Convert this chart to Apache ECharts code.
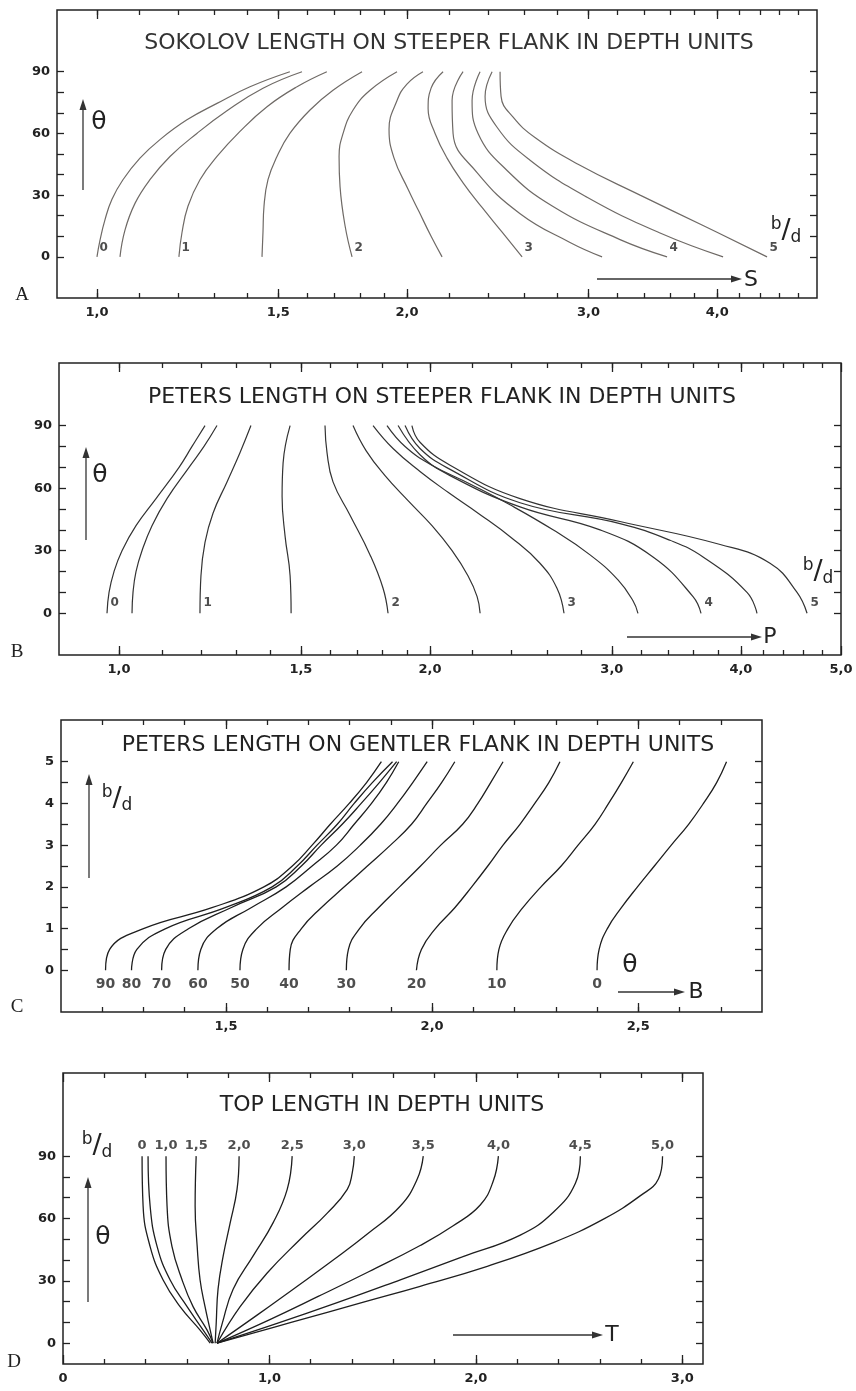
<!DOCTYPE html>
<html>
<head>
<meta charset="utf-8">
<script src="https://cdn.jsdelivr.net/npm/echarts@6/dist/echarts.min.js"></script>
<style>
  html, body { margin: 0; padding: 0; background: #fff; }
  #chart { width: 856px; height: 1391px; }
</style>
</head>
<body>
<div id="chart"></div>
<script>
// ---- A: Sokolov length on steeper flank (S, log scale) vs theta, one curve per b/d
const sokolovNames = ['0', '', '1', '', '2', '', '3', '', '4', '', '5'];
const sokolovTheta = [
  [0, 8, 18, 28, 37.5, 48, 57, 66.6, 74.6, 82.7, 90],
  [0, 13, 26, 37.5, 48.8, 60, 71, 82, 90],
  [0, 11.6, 24.6, 37.5, 48.8, 61, 73, 82.7, 90],
  [0, 12, 24.6, 37.5, 48.8, 60, 71.4, 81, 90],
  [0, 15, 34, 48.8, 60, 71.4, 81, 90],
  [0, 10, 22, 33, 48, 62, 76, 84, 90],
  [0, 12, 24, 36, 48, 60, 72, 82, 90],
  [0, 7, 21, 41, 60, 76, 90],
  [0, 8.4, 24.5, 42, 60, 76, 90],
  [0, 11.6, 29, 47, 63, 78, 90],
  [0, 15, 30, 45, 58, 68, 78, 90]
];
const sokolovS = [
  [1.000, 1.0067, 1.018, 1.0341, 1.0598, 1.1009, 1.1512, 1.2228, 1.3077, 1.4078, 1.539],
  [1.0528, 1.0646, 1.0887, 1.1257, 1.1773, 1.2502, 1.3372, 1.4493, 1.5814],
  [1.201, 1.2091, 1.2255, 1.2589, 1.3077, 1.3767, 1.4624, 1.5638, 1.6717],
  [1.4461, 1.4493, 1.4526, 1.4656, 1.4954, 1.539, 1.6099, 1.6948, 1.8086],
  [1.7686, 1.7413, 1.7218, 1.718, 1.7334, 1.7726, 1.8412, 1.9556],
  [2.1628, 2.1103, 2.054, 2.004, 1.9426, 1.921, 1.9556, 1.9995, 2.0724],
  [2.5864, 2.4735, 2.3649, 2.2667, 2.1869, 2.1292, 2.0963, 2.1103, 2.1676],
  [3.0926, 2.8788, 2.5749, 2.3387, 2.2166, 2.2117, 2.2667],
  [3.5761, 3.2194, 2.7716, 2.501, 2.344, 2.3128, 2.3545],
  [4.0532, 3.5206, 2.9907, 2.6328, 2.4456, 2.381, 2.4186],
  [4.4718, 3.8847, 3.3667, 2.931, 2.6619, 2.5338, 2.4676, 2.4621]
];
const sokolovMajor = [1.0, 1.5, 2.0, 3.0, 4.0];

// ---- B: Peters length on steeper flank (P, log scale)
const petersSteepNames = ['0', '', '1', '', '2', '', '3', '', '4', '', '5'];
const petersSteepTheta = [
  [0, 10, 20, 30, 42, 55, 70, 80, 90],
  [0, 10, 20, 30, 42, 55, 70, 80, 90],
  [0, 18, 34, 48, 63, 77, 90],
  [0, 18, 37, 56, 72, 90],
  [0, 12, 28, 47, 63, 77, 90],
  [0, 8, 18, 30, 42, 54, 66, 78, 90],
  [0, 12, 24, 36, 48, 58, 68, 79, 90],
  [0, 6, 16, 28, 40, 52, 62, 71, 80, 90],
  [0, 8, 27, 40, 51, 66, 76, 90],
  [0, 10, 27, 35, 43, 53, 69, 79, 90],
  [0, 10, 24, 33, 44, 55, 71, 82, 90]
];
const petersSteepP = [
  [0.9736, 0.978, 0.9889, 1.0067, 1.0386, 1.086, 1.1432, 1.1768, 1.2113],
  [1.0294, 1.0317, 1.0386, 1.0526, 1.0763, 1.1129, 1.1689, 1.2086, 1.2441],
  [1.1978, 1.2004, 1.2113, 1.2331, 1.2722, 1.3095, 1.3419],
  [1.4676, 1.4643, 1.448, 1.4384, 1.4416, 1.4643],
  [1.8216, 1.8014, 1.75, 1.6736, 1.6113, 1.5899, 1.5828],
  [2.2366, 2.2217, 2.1768, 2.1011, 2.0091, 1.9047, 1.8094, 1.7344, 1.6848],
  [2.6966, 2.6546, 2.5558, 2.4013, 2.2266, 2.0823, 1.9561, 1.842, 1.7618],
  [3.1799, 3.1447, 3.0414, 2.8577, 2.6313, 2.3907, 2.1868, 2.0091, 1.892, 1.8174],
  [3.6598, 3.5951, 3.2883, 2.9219, 2.4447, 2.0918, 1.9561, 1.8628],
  [4.1462, 4.0548, 3.6762, 3.4154, 3.0549, 2.4447, 2.0918, 1.9561, 1.892],
  [4.6356, 4.5334, 4.268, 3.8194, 3.0549, 2.4447, 2.0918, 1.9561, 1.9211]
];
const petersSteepMajor = [1.0, 1.5, 2.0, 3.0, 4.0, 5.0];
const logMinor = [1.0, 1.1, 1.2, 1.3, 1.4, 1.5, 1.6, 1.7, 1.8, 1.9, 2.0,
  2.2, 2.4, 2.6, 2.8, 3.0, 3.2, 3.4, 3.6, 3.8, 4.0, 4.2, 4.4, 4.6, 4.8];

// ---- C: Peters length on gentler flank, B vs b/d, one curve per theta
const gentleNames = ['90', '80', '70', '60', '50', '40', '30', '20', '10', '0'];
const gentleBd = [0, 0.5, 1, 1.5, 2, 2.5, 3, 3.5, 4, 4.5, 5];
const gentleB = [
  [1.208, 1.218, 1.300, 1.466, 1.592, 1.661, 1.709, 1.753, 1.799, 1.841, 1.877],
  [1.271, 1.284, 1.354, 1.498, 1.612, 1.673, 1.721, 1.770, 1.811, 1.855, 1.904],
  [1.344, 1.354, 1.410, 1.512, 1.622, 1.683, 1.731, 1.782, 1.828, 1.872, 1.914],
  [1.432, 1.439, 1.478, 1.561, 1.646, 1.709, 1.768, 1.811, 1.853, 1.889, 1.919],
  [1.534, 1.541, 1.575, 1.636, 1.702, 1.770, 1.826, 1.875, 1.916, 1.953, 1.988],
  [1.653, 1.656, 1.683, 1.731, 1.787, 1.843, 1.899, 1.950, 1.987, 2.023, 2.055],
  [1.792, 1.797, 1.824, 1.870, 1.921, 1.972, 2.021, 2.074, 2.111, 2.142, 2.172],
  [1.962, 1.974, 2.008, 2.055, 2.096, 2.135, 2.172, 2.213, 2.249, 2.283, 2.310],
  [2.157, 2.162, 2.184, 2.220, 2.264, 2.313, 2.354, 2.395, 2.428, 2.459, 2.488],
  [2.400, 2.405, 2.425, 2.459, 2.498, 2.539, 2.580, 2.622, 2.658, 2.690, 2.714]
];
const gentleMajor = [1.5, 2.0, 2.5];
const gentleMinor = [1.2, 1.3, 1.4, 1.5, 1.6, 1.7, 1.8, 1.9, 2.0, 2.1, 2.2, 2.3, 2.4, 2.5, 2.6, 2.7];

// ---- D: top length T vs theta, one curve per b/d
const topNames = ['0', '', '1,0', '1,5', '2,0', '2,5', '3,0', '3,5', '4,0', '4,5', '5,0'];
const topTheta = [
  [0, 6.3, 17.6, 30.4, 46.5, 66, 90],
  [0, 6.3, 17.6, 30.4, 46.5, 66, 90],
  [0, 6.3, 17.6, 30.4, 46.5, 66, 90],
  [0, 6.3, 17.6, 30.4, 46.5, 66, 90],
  [0, 9.4, 26, 42, 58, 74, 90],
  [0, 9.4, 26, 42, 58, 74, 90],
  [0, 17.6, 33.8, 50, 62.6, 74, 82, 90],
  [0, 13.5, 26, 40, 52.5, 66, 79, 90],
  [0, 11, 22.5, 34.5, 47, 56.5, 66.5, 78, 90],
  [0, 9.5, 19.5, 30.5, 41.5, 52, 63, 77, 90],
  [0, 10, 20, 27.4, 37, 48.4, 59.7, 71, 79, 90]
];
const topT = [
  [0.713, 0.664, 0.567, 0.485, 0.422, 0.388, 0.383],
  [0.722, 0.679, 0.601, 0.519, 0.456, 0.422, 0.412],
  [0.727, 0.698, 0.630, 0.577, 0.528, 0.504, 0.499],
  [0.727, 0.713, 0.688, 0.664, 0.650, 0.640, 0.645],
  [0.737, 0.742, 0.751, 0.776, 0.810, 0.843, 0.853],
  [0.746, 0.771, 0.824, 0.921, 1.018, 1.086, 1.110],
  [0.746, 0.858, 0.989, 1.149, 1.280, 1.377, 1.401, 1.411],
  [0.746, 0.940, 1.115, 1.309, 1.474, 1.634, 1.716, 1.745],
  [0.746, 0.994, 1.236, 1.483, 1.730, 1.890, 2.021, 2.084, 2.109],
  [0.746, 1.037, 1.328, 1.634, 1.934, 2.215, 2.375, 2.482, 2.506],
  [0.746, 1.105, 1.464, 1.730, 2.055, 2.375, 2.618, 2.797, 2.884, 2.904]
];
const topMajor = [0, 1.0, 2.0, 3.0];
const topMinor = [0.2, 0.4, 0.6, 0.8, 1.0, 1.2, 1.4, 1.6, 1.8, 2.0, 2.2, 2.4, 2.6, 2.8, 3.0];

const thetaTicks = [0, 10, 20, 30, 40, 50, 60, 70, 80, 90];
const thetaLabels = [0, 30, 60, 90];
const bdTicks = [0, 0.5, 1, 1.5, 2, 2.5, 3, 3.5, 4, 4.5, 5];
const bdLabels = [0, 1, 2, 3, 4, 5];

// ------------------------------------------------------------------
const FONT = 'DejaVu Sans';
const INK = '#222';
const chart = echarts.init(document.getElementById('chart'));

const lg = v => Math.log10(v);
const comma = v => v.toFixed(1).replace('.', ',');

const grids = [
  { left: 57, top: 10, width: 760, height: 288 },
  { left: 59, top: 363, width: 782, height: 292 },
  { left: 61, top: 720, width: 701, height: 292 },
  { left: 63, top: 1073, width: 640, height: 291 }
].map(g => Object.assign(g, {
  show: true, borderColor: INK, borderWidth: 1.5, outerBoundsMode: 'none'
}));

const tickStyle = { color: INK, width: 1.3 };
const labelStyle = { color: INK, fontFamily: FONT, fontSize: 13, fontWeight: 'bold' };

function xAxes(gi, min, max, major, minor, fmt) {
  const base = {
    gridIndex: gi, type: 'value', min: min, max: max,
    splitLine: { show: false }, axisLine: { show: false, onZero: false }
  };
  return [
    Object.assign({}, base, {
      position: 'bottom',
      axisTick: { inside: true, length: 9, customValues: major, lineStyle: tickStyle },
      axisLabel: Object.assign({ customValues: major, formatter: fmt, margin: 8 }, labelStyle)
    }),
    Object.assign({}, base, {
      position: 'bottom',
      axisTick: { inside: true, length: 5, customValues: minor, lineStyle: tickStyle },
      axisLabel: { show: false }
    }),
    Object.assign({}, base, {
      position: 'top',
      axisTick: { inside: true, length: 9, customValues: major, lineStyle: tickStyle },
      axisLabel: { show: false }
    }),
    Object.assign({}, base, {
      position: 'top',
      axisTick: { inside: true, length: 5, customValues: minor, lineStyle: tickStyle },
      axisLabel: { show: false }
    })
  ];
}

function yAxes(gi, min, max, ticks, labels) {
  const base = {
    gridIndex: gi, type: 'value', min: min, max: max,
    splitLine: { show: false }, axisLine: { show: false, onZero: false }
  };
  return [
    Object.assign({}, base, {
      position: 'left',
      axisTick: { inside: true, length: 7, customValues: ticks, lineStyle: tickStyle },
      axisLabel: Object.assign({ customValues: labels, margin: 7 }, labelStyle)
    }),
    Object.assign({}, base, {
      position: 'right',
      axisTick: { inside: true, length: 7, customValues: ticks, lineStyle: tickStyle },
      axisLabel: { show: false }
    })
  ];
}

const logFmt = v => comma(Math.pow(10, v));

const xAxis = [].concat(
  xAxes(0, -0.0388, lg(5), sokolovMajor.map(lg), logMinor.map(lg), logFmt),
  xAxes(1, -0.0581, lg(5), petersSteepMajor.map(lg), logMinor.map(lg), logFmt),
  xAxes(2, 1.1, 2.8, gentleMajor, gentleMinor, comma),
  xAxes(3, 0, 3.1, topMajor, topMinor, v => (v === 0 ? '0' : comma(v)))
);
const yAxis = [].concat(
  yAxes(0, -20, 120, thetaTicks, thetaLabels),
  yAxes(1, -20, 120, thetaTicks, thetaLabels),
  yAxes(2, -1, 6, bdTicks, bdLabels),
  yAxes(3, -10, 130, thetaTicks, thetaLabels)
);

const series = [];
function curve(gi, pts, color, width) {
  series.push({
    type: 'line', xAxisIndex: gi * 4, yAxisIndex: gi * 2, data: pts,
    smooth: 0.45, symbol: 'none', silent: true, animation: false,
    lineStyle: { color: color, width: width }
  });
}
function labels(gi, pts, names, label) {
  series.push({
    type: 'scatter', xAxisIndex: gi * 4, yAxisIndex: gi * 2, silent: true, animation: false,
    symbolSize: 1, itemStyle: { color: 'rgba(0,0,0,0)' },
    data: pts.map((p, i) => ({ value: p, name: names[i] })).filter(d => d.name),
    label: Object.assign({ show: true, formatter: '{b}', color: INK, fontFamily: FONT }, label)
  });
}

// A
sokolovS.forEach((s, i) => curve(0, s.map((v, k) => [lg(v), sokolovTheta[i][k]]), '#6f6a66', 1.2));
labels(0, sokolovS.map((s, i) => [lg(s[0]), sokolovTheta[i][0]]), sokolovNames,
  { position: 'right', distance: 2, offset: [0, -9], fontSize: 12, fontWeight: 'bold' });
// B
petersSteepP.forEach((p, i) => curve(1, p.map((v, k) => [lg(v), petersSteepTheta[i][k]]), '#333', 1.2));
labels(1, petersSteepP.map((p, i) => [lg(p[0]), petersSteepTheta[i][0]]), petersSteepNames,
  { position: 'right', distance: 3, offset: [0, -10], fontSize: 12, fontWeight: 'bold' });
// C
gentleB.forEach(b => curve(2, b.map((v, k) => [v, gentleBd[k]]), '#1e1e1e', 1.3));
labels(2, gentleB.map(b => [b[0], gentleBd[0]]), gentleNames,
  { position: 'bottom', distance: 7, fontSize: 14, fontWeight: 'bold' });
// D
topT.forEach((t, i) => curve(3, t.map((v, k) => [v, topTheta[i][k]]), '#1e1e1e', 1.3));
labels(3, topT.map((t, i) => [t[t.length - 1], topTheta[i][topTheta[i].length - 1]]), topNames,
  { position: 'top', distance: 4, fontSize: 13, fontWeight: 'bold' });

// ---- annotations (titles, arrows, symbols)
const graphic = [];
function text(x, y, str, size, extra) {
  graphic.push({
    type: 'text', x: x, y: y, silent: true,
    style: Object.assign({
      text: str, fill: INK, font: size + 'px "' + FONT + '"', align: 'center', verticalAlign: 'middle'
    }, extra || {})
  });
}
function arrow(x1, y1, x2, y2) {
  const a = Math.atan2(y2 - y1, x2 - x1);
  const len = 11, half = 3.5;
  const bx = x2 - len * Math.cos(a), by = y2 - len * Math.sin(a);
  graphic.push({ type: 'line', silent: true, shape: { x1: x1, y1: y1, x2: bx, y2: by },
    style: { stroke: '#333', lineWidth: 1.3 } });
  graphic.push({ type: 'polygon', silent: true,
    shape: { points: [[x2, y2], [bx - half * Math.sin(a), by + half * Math.cos(a)], [bx + half * Math.sin(a), by - half * Math.cos(a)]] },
    style: { fill: '#333' } });
}
function bOverD(x, y) {
  graphic.push({
    type: 'text', x: x, y: y, silent: true,
    style: {
      text: '{b|b}{s|/}{d|d}', align: 'center', verticalAlign: 'middle', fill: INK,
      rich: {
        b: { fontFamily: FONT, fontSize: 17, verticalAlign: 'top', lineHeight: 30 },
        s: { fontFamily: FONT, fontSize: 27, lineHeight: 30 },
        d: { fontFamily: FONT, fontSize: 17, verticalAlign: 'bottom', lineHeight: 30 }
      }
    }
  });
}
function letter(x, y, str) {
  text(x, y, str, 19, { font: '19px "Liberation Serif"' });
}

// A
text(449, 43, 'SOKOLOV LENGTH ON STEEPER FLANK IN DEPTH UNITS', 22, { fill: '#333' });
letter(22, 295, 'A');
arrow(83, 190, 83, 99);
text(99, 122, 'θ', 25);
bOverD(786, 231);
arrow(597, 279, 742, 279);
text(751, 280, 'S', 22);
// B
text(442, 397, 'PETERS LENGTH ON STEEPER FLANK IN DEPTH UNITS', 22);
letter(17, 652, 'B');
arrow(86, 540, 86, 447);
text(100, 475, 'θ', 25);
bOverD(818, 572);
arrow(627, 637, 762, 637);
text(770, 637, 'P', 22);
// C
text(418, 745, 'PETERS LENGTH ON GENTLER FLANK IN DEPTH UNITS', 22);
letter(17, 1007, 'C');
arrow(89, 878, 89, 774);
bOverD(117, 799);
text(630, 965, 'θ', 25);
arrow(618, 992, 685, 992);
text(696, 992, 'B', 22);
// D
text(382, 1105, 'TOP LENGTH IN DEPTH UNITS', 22);
letter(14, 1362, 'D');
bOverD(97, 1146);
arrow(88, 1302, 88, 1177);
text(103, 1237, 'θ', 25);
arrow(453, 1335, 603, 1335);
text(612, 1335, 'T', 22);

chart.setOption({
  backgroundColor: '#fff',
  animation: false,
  textStyle: { fontFamily: FONT },
  grid: grids,
  xAxis: xAxis,
  yAxis: yAxis,
  series: series,
  graphic: graphic
});
window.onresize = function () { chart.resize(); };
</script>
</body>
</html>
